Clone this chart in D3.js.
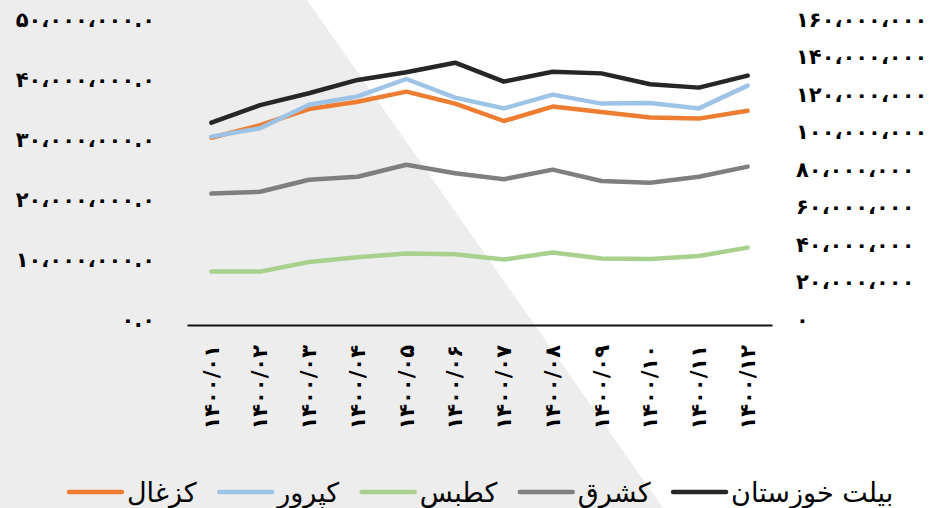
<!DOCTYPE html>
<html><head><meta charset="utf-8">
<script src="https://cdn.jsdelivr.net/npm/d3@7"></script>
<style>html,body{margin:0;padding:0;background:#fff;}svg{display:block;}</style>
</head><body>
<svg id="c" width="939" height="508"></svg>
<script>
const categories = ["1400/01","1400/02","1400/03","1400/04","1400/05","1400/06","1400/07","1400/08","1400/09","1400/10","1400/11","1400/12"];
const kazghal  = [31.2e6,33.3e6,36.0e6,37.2e6,38.9e6,36.9e6,34.0e6,36.4e6,35.5e6,34.6e6,34.4e6,35.7e6];
const kaprar   = [31.4e6,32.8e6,36.7e6,38.1e6,41.0e6,37.9e6,36.1e6,38.4e6,36.9e6,37.0e6,36.1e6,39.9e6];
const katbas   = [8.9e6,8.9e6,10.5e6,11.3e6,11.9e6,11.8e6,10.9e6,12.1e6,11.1e6,11.0e6,11.5e6,12.9e6];
const kashrag  = [21.9e6,22.2e6,24.2e6,24.7e6,26.7e6,25.3e6,24.3e6,25.9e6,24.0e6,23.7e6,24.7e6,26.4e6];
const biletKhz = [107.9e6,117.3e6,123.6e6,130.7e6,134.8e6,139.9e6,129.8e6,135.1e6,134.2e6,128.4e6,126.6e6,133.0e6];
const seriesNames = ["کزغال","کپرور","کطبس","کشرق","بیلت خوزستان"];
const leftTicks  = [0,10e6,20e6,30e6,40e6,50e6];
const rightTicks = [0,20e6,40e6,60e6,80e6,100e6,120e6,140e6,160e6];

const faDigits = "۰۱۲۳۴۵۶۷۸۹";
const toFa = s => s.replace(/[0-9]/g, d => faDigits[+d]).replace(/,/g, "،");
const fmtLeft = v => toFa(d3.format(",.1f")(v));
const fmtRight = v => toFa(d3.format(",.0f")(v));

const svg = d3.select("#c");
const W = 939, H = 508;
const font = "'DejaVu Sans', sans-serif";

// background diagonal panel
svg.append("rect").attr("width", W).attr("height", H).attr("fill", "#ffffff");
svg.append("path").attr("d", "M0,0 L307,0 L663,508 L0,508 Z").attr("fill", "#ededed");

const plot = {left: 187, right: 772, top: 25, bottom: 325};
const x = d3.scaleBand().domain(categories).range([plot.left, plot.right]);
const yL = d3.scaleLinear().domain([0, 50e6]).range([plot.bottom, plot.top]);
const yR = d3.scaleLinear().domain([0, 160e6]).range([plot.bottom, plot.top]);

// left axis
const gL = svg.append("g").attr("transform", `translate(155,0)`)
  .call(d3.axisLeft(yL).tickValues(leftTicks).tickFormat(fmtLeft).tickSize(0).tickPadding(0));
gL.select(".domain").remove();
gL.selectAll("text").attr("font-family", font).attr("font-size", 21).attr("font-weight", "bold")
  .attr("fill", "#000").attr("dy", "0.05em").style("direction", "ltr");

// right axis
const gR = svg.append("g").attr("transform", `translate(796,0)`)
  .call(d3.axisRight(yR).tickValues(rightTicks).tickFormat(fmtRight).tickSize(0).tickPadding(0));
gR.select(".domain").remove();
gR.selectAll("text").attr("font-family", font).attr("font-size", 21).attr("font-weight", "bold")
  .attr("letter-spacing", 0.7).attr("fill", "#000").attr("dy", "0.05em").style("direction", "ltr");

// x axis
const gX = svg.append("g").attr("transform", `translate(0,${plot.bottom})`)
  .call(d3.axisBottom(x).tickFormat(d => toFa(d)).tickSize(0).tickPadding(0));
gX.select(".domain").attr("stroke", "#111").attr("stroke-width", 2);
gX.selectAll("text").attr("font-family", font).attr("font-size", 21).attr("font-weight", "bold")
  .attr("letter-spacing", 2).attr("fill", "#000").style("direction", "ltr")
  .attr("text-anchor", "end").attr("transform", "translate(0,20) rotate(-90)")
  .attr("x", 0).attr("y", 0).attr("dy", "0.35em");

const cx = d => x(d) + x.bandwidth() / 2;
const series = [
  {name: seriesNames[0], values: kazghal, color: "#ED7D31", y: yL, w: 4.5},
  {name: seriesNames[1], values: kaprar, color: "#9DC3E6", y: yL, w: 4.5},
  {name: seriesNames[2], values: katbas, color: "#A9D18E", y: yL, w: 4.5},
  {name: seriesNames[3], values: kashrag, color: "#7F7F7F", y: yL, w: 4.5},
  {name: seriesNames[4], values: biletKhz, color: "#262626", y: yR, w: 4.5}
];
series.forEach(s => {
  const line = d3.line().x((d, i) => cx(categories[i])).y(d => s.y(d));
  svg.append("path").datum(s.values).attr("d", line).attr("fill", "none")
    .attr("stroke", s.color).attr("stroke-width", s.w)
    .attr("stroke-linejoin", "round").attr("stroke-linecap", "round");
});

// legend
const lg = svg.append("g");
let lx = 69;
const ly = 492;
series.forEach(s => {
  lg.append("line").attr("x1", lx).attr("x2", lx + 53).attr("y1", ly).attr("y2", ly)
    .attr("stroke", s.color).attr("stroke-width", 4.5).attr("stroke-linecap", "round");
  const t = lg.append("text").attr("x", lx + 58).attr("y", ly + 10)
    .attr("font-family", font).attr("font-size", 27).attr("fill", "#000")
    .attr("text-anchor", "start").text(s.name);
  const w = t.node().getComputedTextLength();
  lx += 58 + w + 22.5;
});
</script>
</body></html>
